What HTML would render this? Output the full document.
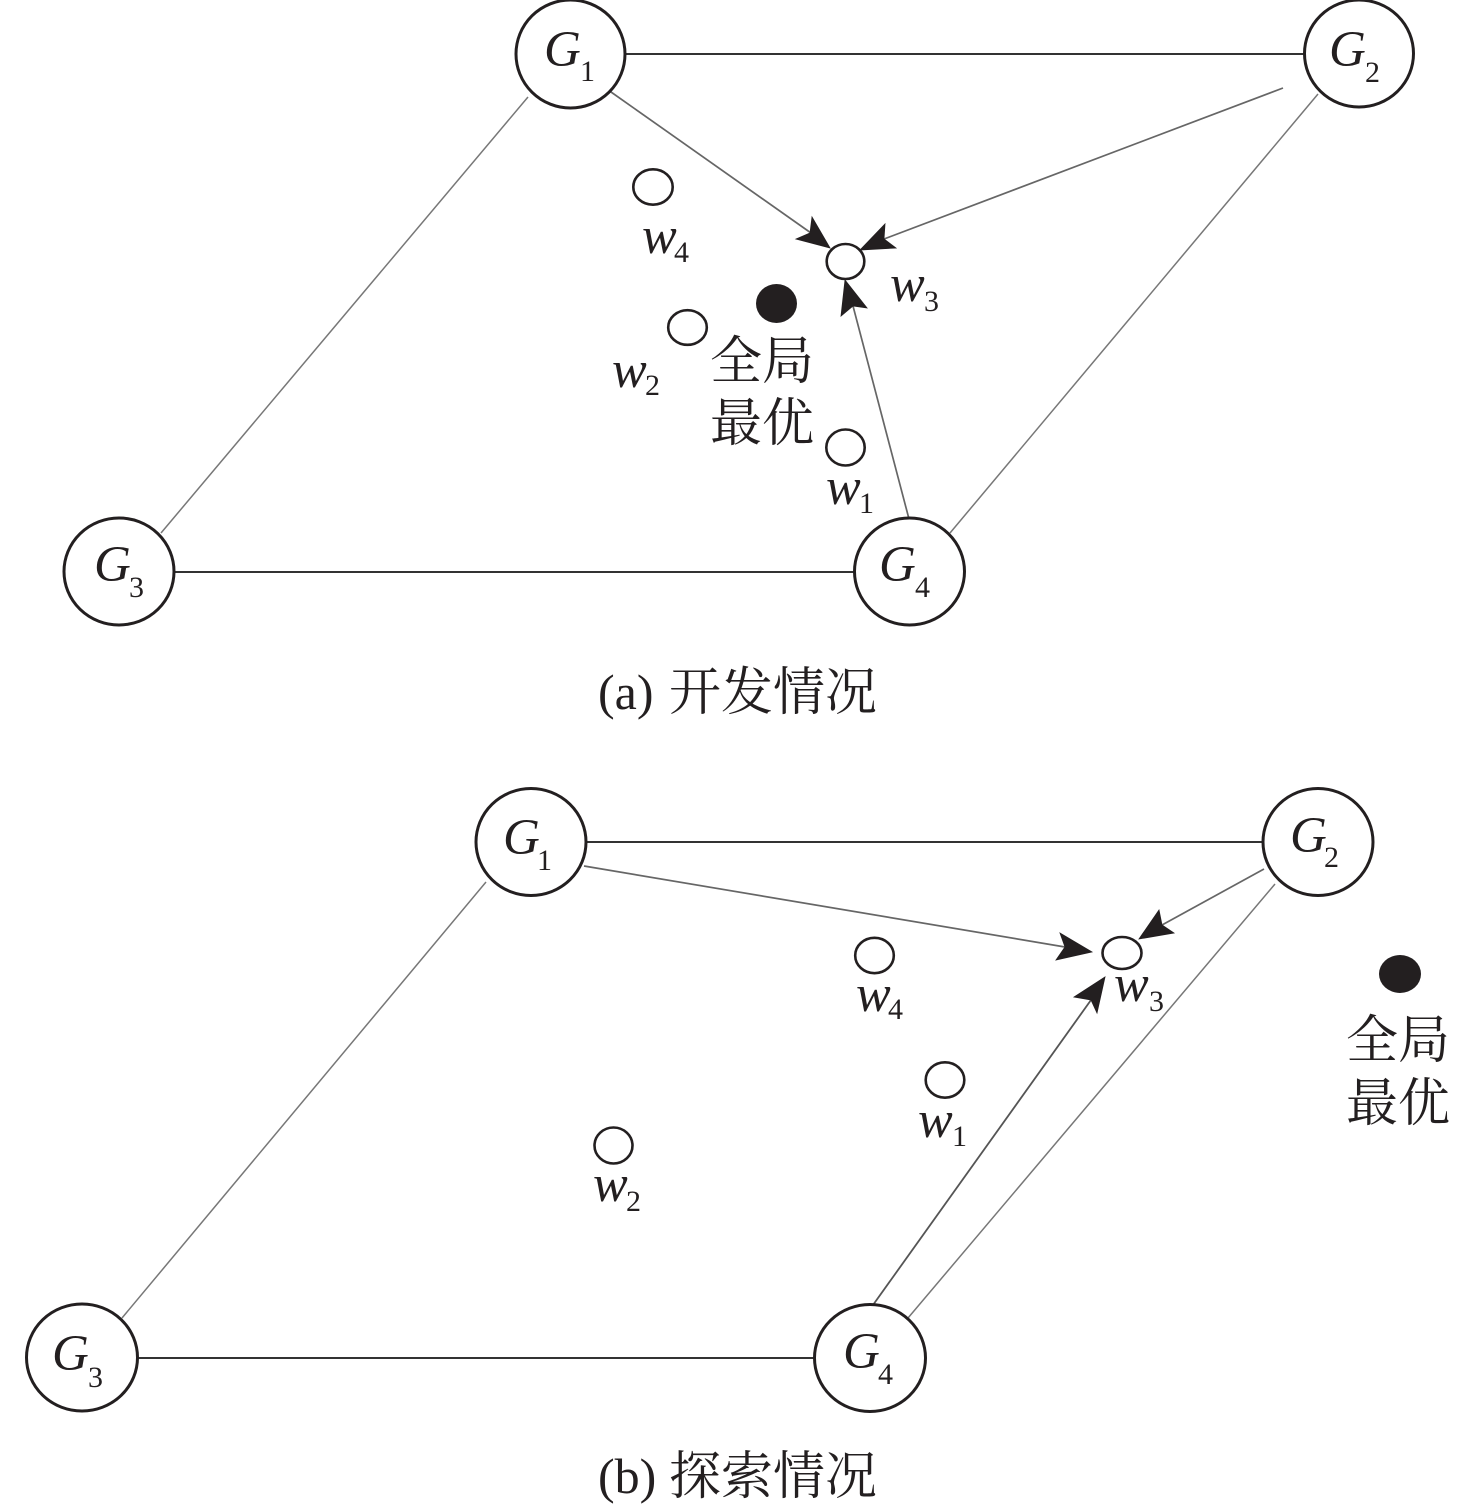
<!DOCTYPE html>
<html>
<head>
<meta charset="utf-8">
<style>
html,body{margin:0;padding:0;background:#fff;width:1476px;height:1510px;overflow:hidden}
svg{display:block}
.g{font-family:"Liberation Serif",serif;font-style:italic;font-size:51px;fill:#231f20}
.w{font-family:"Liberation Serif",serif;font-style:italic;font-size:52px;fill:#231f20}
.s{font-family:"Liberation Serif",serif;font-size:30px;fill:#231f20}
.c{font-family:"Noto Serif CJK SC","Liberation Serif",serif;font-size:52px;fill:#231f20}
.cap{font-family:"Liberation Serif","Noto Serif CJK SC",serif;font-size:50px;fill:#231f20}
.n{fill:#fff;stroke:#231f20;stroke-width:3}
.m{fill:#fff;stroke:#231f20;stroke-width:2.6}
.l{stroke:#333;stroke-width:2;fill:none}
.t{stroke:#777;stroke-width:1.5;fill:none}
.a{stroke:#666;stroke-width:1.7;fill:none}
.h{fill:#231f20;stroke:#231f20;stroke-width:0.8;stroke-linejoin:miter}
</style>
</head>
<body>
<svg width="1476" height="1510" viewBox="0 0 1476 1510" xmlns="http://www.w3.org/2000/svg">

<!-- (a) -->
<line class="l" x1="625" y1="54" x2="1305" y2="54"/>
<line class="l" x1="175" y1="572" x2="855" y2="572"/>
<line class="t" x1="528" y1="97" x2="161" y2="533"/>
<line class="t" x1="1318" y1="94" x2="950" y2="533"/>
<line class="a" x1="611" y1="92" x2="811" y2="233"/>
<line class="a" x1="1283" y1="88" x2="884" y2="239"/>
<line class="a" x1="909" y1="519" x2="853" y2="306"/>
<polygon class="h" points="830,248 812,217 810,233 796,239"/>
<polygon class="h" points="860,250 885,224 884,239 896,248"/>
<polygon class="h" points="845,280 841,316 853,306 867,308"/>

<ellipse class="n" cx="570.5" cy="54" rx="54.5" ry="54"/>
<ellipse class="n" cx="1359" cy="53.5" rx="54.5" ry="53.5"/>
<ellipse class="n" cx="119" cy="571.5" rx="55" ry="53.5"/>
<ellipse class="n" cx="909.5" cy="571.5" rx="55" ry="53.5"/>
<text class="g" x="544" y="66">G</text><text class="s" x="580" y="81">1</text>
<text class="g" x="1329" y="66">G</text><text class="s" x="1365" y="82">2</text>
<text class="g" x="94" y="581">G</text><text class="s" x="129" y="597">3</text>
<text class="g" x="879" y="581">G</text><text class="s" x="915" y="597">4</text>

<ellipse class="m" cx="653" cy="187" rx="19.7" ry="17.7"/>
<ellipse class="m" cx="845.5" cy="261.5" rx="18.8" ry="17.5"/>
<ellipse class="m" cx="687.5" cy="327.5" rx="19.3" ry="17.3"/>
<ellipse class="m" cx="845.5" cy="447.5" rx="19.2" ry="18"/>
<ellipse cx="776.5" cy="303.5" rx="20.5" ry="19.5" fill="#231f20"/>

<text class="w" x="642" y="253">w</text><text class="s" x="674" y="262">4</text>
<text class="w" x="890" y="301">w</text><text class="s" x="924" y="311">3</text>
<text class="w" x="612" y="387">w</text><text class="s" x="645" y="395">2</text>
<text class="w" x="826" y="504">w</text><text class="s" x="859" y="513">1</text>
<text class="c" x="710" y="379">全局</text>
<text class="c" x="710" y="441">最优</text>
<text class="cap" x="598" y="709">(a)</text>
<text class="c" x="669" y="710">开发情况</text>

<!-- (b) -->
<line class="l" x1="586" y1="842" x2="1264" y2="842"/>
<line class="l" x1="137" y1="1358" x2="815" y2="1358"/>
<line class="t" x1="486" y1="882" x2="122" y2="1318"/>
<line class="t" x1="1275" y1="884" x2="908" y2="1318"/>
<line class="a" x1="584" y1="866" x2="1065" y2="947"/>
<line class="a" x1="1264" y1="869" x2="1162" y2="925"/>
<line x1="873" y1="1305" x2="1091" y2="1000" stroke="#555" stroke-width="1.8"/>
<polygon class="h" points="1092,952 1060,933 1065,947 1056,960"/>
<polygon class="h" points="1139,939 1159,910 1162,925 1174,933"/>
<polygon class="h" points="1105,977 1074,997 1091,1000 1097,1013"/>

<ellipse class="n" cx="531" cy="842" rx="55" ry="53.5"/>
<ellipse class="n" cx="1318" cy="842" rx="55" ry="53.5"/>
<ellipse class="n" cx="82" cy="1357.5" rx="55.5" ry="53.5"/>
<ellipse class="n" cx="870" cy="1358" rx="55.5" ry="53.5"/>
<text class="g" x="503" y="854">G</text><text class="s" x="537" y="870">1</text>
<text class="g" x="1290" y="852">G</text><text class="s" x="1324" y="867">2</text>
<text class="g" x="52" y="1370">G</text><text class="s" x="88" y="1387">3</text>
<text class="g" x="843" y="1368">G</text><text class="s" x="878" y="1384">4</text>

<ellipse class="m" cx="874.5" cy="955.5" rx="19.3" ry="17.7"/>
<ellipse class="m" cx="1122" cy="953" rx="19.5" ry="16"/>
<ellipse class="m" cx="945" cy="1080" rx="19.3" ry="17.7"/>
<ellipse class="m" cx="613.5" cy="1145.5" rx="19" ry="18"/>
<ellipse cx="1400" cy="974" rx="21" ry="19" fill="#231f20"/>

<text class="w" x="856" y="1011">w</text><text class="s" x="888" y="1019">4</text>
<text class="w" x="1114" y="1001">w</text><text class="s" x="1149" y="1011">3</text>
<text class="w" x="918" y="1137">w</text><text class="s" x="952" y="1146">1</text>
<text class="w" x="593" y="1201">w</text><text class="s" x="626" y="1211">2</text>
<text class="c" x="1346" y="1058">全局</text>
<text class="c" x="1346" y="1121">最优</text>
<text class="cap" x="598" y="1493">(b)</text>
<text class="c" x="669" y="1494">探索情况</text>
</svg>
</body>
</html>
